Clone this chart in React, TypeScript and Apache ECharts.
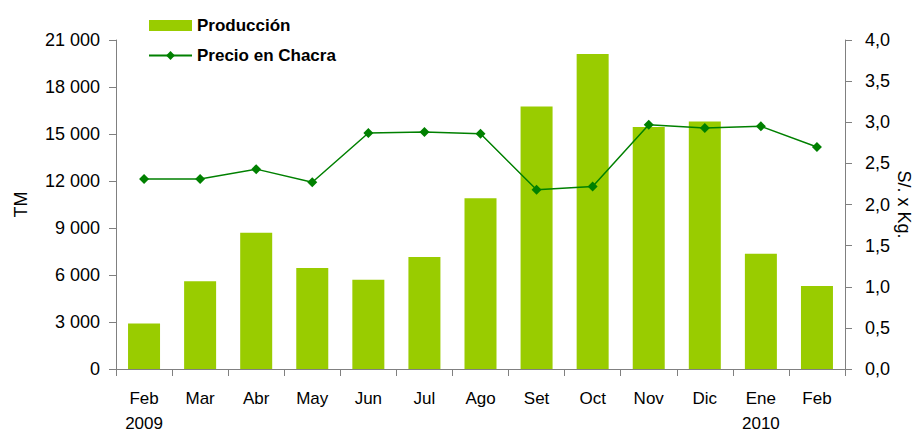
import React, { useEffect, useRef } from "react";
import * as echarts from "echarts";

const categories = ["Feb", "Mar", "Abr", "May", "Jun", "Jul", "Ago", "Set", "Oct", "Nov", "Dic", "Ene", "Feb"];
const yearLabels = ["2009", "", "", "", "", "", "", "", "", "", "", "2010", ""];
const produccion = [2900, 5600, 8700, 6450, 5700, 7150, 10900, 16750, 20100, 15450, 15800, 7350, 5300];
const precio = [2.31, 2.31, 2.43, 2.27, 2.87, 2.88, 2.86, 2.18, 2.22, 2.97, 2.93, 2.95, 2.7];

const FONT = "Liberation Sans, Arial, sans-serif";

export default function App() {
  const ref = useRef<HTMLDivElement>(null);
  useEffect(() => {
    if (!ref.current) return;
    const chart = echarts.init(ref.current, null, { renderer: "svg" });
    chart.setOption({
      animation: false,
      backgroundColor: "#ffffff",
      textStyle: { fontFamily: FONT },
      grid: { left: 116, right: 73, top: 40, bottom: 63, outerBoundsMode: "none", containLabel: false },
      legend: {
        orient: "vertical",
        left: 143,
        top: 12,
        itemGap: 13,
        itemWidth: 43,
        itemHeight: 11,
        textStyle: { fontFamily: FONT, fontSize: 17, fontWeight: "bold", color: "#000" },
        data: [
          { name: "Producción", icon: "rect" },
          { name: "Precio en Chacra" },
        ],
      },
      xAxis: {
        type: "category",
        data: categories,
        axisLine: { lineStyle: { color: "#808080", width: 1 } },
        axisTick: { show: true, length: 7, lineStyle: { color: "#808080" } },
        axisLabel: {
          margin: 17,
          interval: 0,
          formatter: (v: string, i: number) =>
            yearLabels[i] ? `{m|${v}}\n{y|${yearLabels[i]}}` : `{m|${v}}\n{y| }`,
          rich: {
            m: { fontFamily: FONT, fontSize: 17, color: "#000", lineHeight: 25 },
            y: { fontFamily: FONT, fontSize: 17, color: "#000", lineHeight: 25 },
          },
        },
      },
      yAxis: [
        {
          type: "value",
          min: 0,
          max: 21000,
          interval: 3000,
          name: "TM",
          nameLocation: "middle",
          nameRotate: 90,
          nameGap: 86,
          nameTextStyle: { fontFamily: FONT, fontSize: 18, color: "#000" },
          axisLine: { show: true, lineStyle: { color: "#808080" } },
          axisTick: { show: true, length: 7, lineStyle: { color: "#808080" } },
          splitLine: { show: false },
          axisLabel: {
            margin: 16,
            fontFamily: FONT,
            fontSize: 18,
            color: "#000",
            formatter: (v: number) => (v >= 1000 ? `${Math.floor(v / 1000)} ${String(v % 1000).padStart(3, "0")}` : `${v}`),
          },
        },
        {
          type: "value",
          min: 0,
          max: 4,
          interval: 0.5,
          name: "S/. x Kg.",
          nameLocation: "middle",
          nameRotate: -90,
          nameGap: 50,
          nameMoveOverlap: false,
          nameTextStyle: { fontFamily: FONT, fontSize: 18, color: "#000" },
          axisLine: { show: true, lineStyle: { color: "#808080" } },
          axisTick: { show: true, length: 7, lineStyle: { color: "#808080" } },
          splitLine: { show: false },
          axisLabel: {
            margin: 20,
            fontFamily: FONT,
            fontSize: 18,
            color: "#000",
            formatter: (v: number) => v.toFixed(1).replace(".", ","),
          },
        },
      ],
      series: [
        {
          name: "Producción",
          type: "bar",
          data: produccion,
          yAxisIndex: 0,
          barWidth: 32,
          itemStyle: { color: "#99cc00" },
        },
        {
          name: "Precio en Chacra",
          type: "line",
          data: precio,
          yAxisIndex: 1,
          symbol: "diamond",
          symbolSize: 10,
          lineStyle: { color: "#008000", width: 1.5 },
          itemStyle: { color: "#008000" },
        },
      ],
    });
    return () => chart.dispose();
  }, []);
  return <div ref={ref} style={{ position: "absolute", left: 0, top: 0, width: 918, height: 432 }} />;
}
